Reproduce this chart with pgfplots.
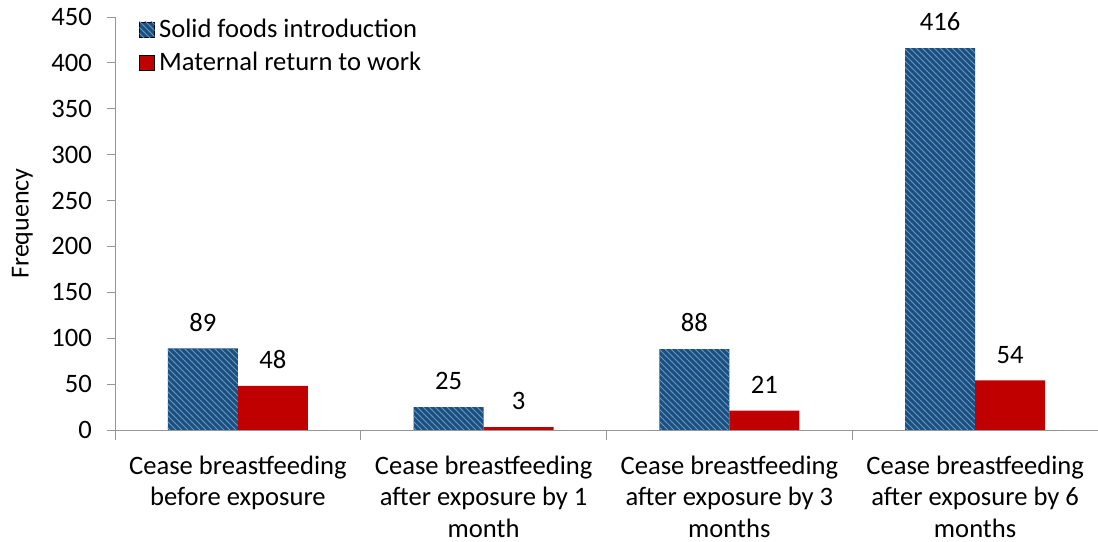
\documentclass[border=0pt]{standalone}
\usepackage{fontspec}
\setmainfont{Carlito}
\usepackage{pgfplots}
\pgfplotsset{compat=1.18}
\usetikzlibrary{patterns}
\definecolor{darkblue}{RGB}{31,78,121}
\definecolor{lightblue}{RGB}{91,155,213}
\definecolor{darkred}{RGB}{192,0,0}
\definecolor{axisgray}{RGB}{150,150,150}
\begin{document}
\begin{tikzpicture}
\begin{axis}[
  scale only axis,
  width=491.5pt, height=206.5pt,
  ybar=0pt, bar width=35pt,
  xmin=-0.5, xmax=3.5,
  ymin=0, ymax=450,
  ytick={0,50,...,450},
  xtick={0,1,2,3},
  xticklabels={Cease breastfeeding\\before exposure, Cease breastfeeding\\after exposure by 1\\month, Cease breastfeeding\\after exposure by 3\\months, Cease breastfeeding\\after exposure by 6\\months},
  x tick label style={align=center, font=\fontsize{13.3}{15.7}\selectfont, yshift=-5.5pt},
  y tick label style={font=\fontsize{13.3}{15}\selectfont, xshift=-4pt},
  /pgf/number format/assume math mode=true,
  minor xtick={-0.5,0.5,1.5,2.5,3.5},
  major x tick style={draw=none},
  minor x tick style={draw=axisgray, thin},
  minor tick length=5pt,
  major tick length=4pt,
  tick align=outside,
  xtick pos=bottom, ytick pos=left,
  axis x line*=bottom, axis y line*=left,
  axis line style={draw=axisgray, thin},
  y tick style={draw=axisgray, thin},
  ylabel={Frequency},
  ylabel shift=2.5pt,
  ylabel style={font=\fontsize{13}{15}\selectfont},
  nodes near coords,
  every node near coord/.append style={font=\fontsize{13.3}{15}\selectfont, black, yshift=5pt},
  legend style={at={(0.018,1.016)}, anchor=north west, draw=none, fill=none,
    font=\fontsize{13.3}{15}\selectfont, row sep=2pt},
  legend cell align=left,
  legend image code/.code={\draw[#1] (0pt,-3.8pt) rectangle (7.6pt,3.8pt);},
  clip=false,
]
\addplot[fill=darkblue, draw=none, postaction={pattern=north west lines, pattern color=lightblue}] coordinates {(0,89) (1,25) (2,88) (3,416)};
\addplot[fill=darkred, draw=none] coordinates {(0,48) (1,3) (2,21) (3,54)};
\legend{Solid foods introduction, Maternal return to work}
\coordinate (bl) at (rel axis cs:0,0);
\coordinate (tr) at (rel axis cs:1,1);
\end{axis}
\pgfresetboundingbox
\path ([shift={(-57.5pt,-56pt)}]bl) rectangle ([shift={(0pt,8.5pt)}]tr);
\end{tikzpicture}
\end{document}
